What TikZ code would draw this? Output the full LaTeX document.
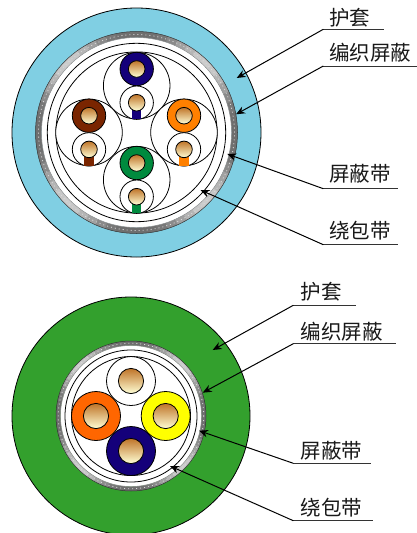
\documentclass[tikz,border=0pt]{standalone}
\usepackage{fontspec}
\newfontfamily\cjk{Noto Sans CJK SC}
\usetikzlibrary{arrows.meta}
\definecolor{jacketblue}{HTML}{80CFE3}
\definecolor{jacketgreen}{HTML}{33A02D}
\definecolor{wnavy}{HTML}{14007A}
\definecolor{wbrown}{HTML}{7A2500}
\definecolor{worange}{HTML}{FF8000}
\definecolor{wgreen}{HTML}{008A3E}
\definecolor{lorange}{HTML}{FF6600}
\definecolor{lyellow}{HTML}{FFFF00}
\definecolor{cutop}{HTML}{BF7428}
\definecolor{cubot}{HTML}{FFFFD6}
\tikzset{
  x=1pt,y=-1pt,
  ol/.style={draw=black,line width=0.8pt},
  wire/.style={ol,fill=white},
  conductor/.style={draw=black,line width=0.8pt,top color=cutop,bottom color=cubot,shading angle=0},
  leader/.style={draw=black,line width=1pt,-{Stealth[length=9pt,width=7.5pt]}},
  underline/.style={draw=black!80,line width=1pt},
  lab/.style={font=\cjk\fontsize{20.5}{22}\selectfont,anchor=west,inner sep=0pt,text=black!90},
}
\newcommand{\braid}[5]{% cx cy ro ri highlight strength
  \pgfmathsetmacro{\rr}{(#3+#4)/2}%
  \foreach \a in {0,6,...,354}{%
    \pgfmathsetmacro{\sh}{int(58-#5*abs(sin(2*(\a+3)))^3)}%
    \draw[line width={(#3-#4)*1pt},draw=black!\sh] ({#1+\rr*cos(\a)},{#2-\rr*sin(\a)}) arc[start angle=\a,delta angle=6.6,radius=\rr pt];%
  }%
  \draw[white!70!gray,line width=0.8pt,dash pattern=on 1pt off 3pt] (#1,#2) ++(0:\rr pt) arc[start angle=0,end angle=360,radius=\rr pt];
  \draw[black!80,line width=0.5pt] (#1,#2) circle[radius=#3 pt];
  \draw[black!50,line width=0.4pt,fill=white] (#1,#2) circle[radius=#4 pt];
}
\newcommand{\pairunit}[2]{%
  \draw[wire] (#1,#2) circle[radius=33.3pt];
}
\newcommand{\pairwires}[3]{% x, pair y, colour
  \draw[ol,fill=#3] (#1,#2-16.7) circle[radius=16.7pt];
  \draw[conductor] (#1,#2-16.7) circle[radius=8.3pt];
  \draw[wire] (#1,#2+17) circle[radius=16.7pt];
  \fill[#3] (#1-4.6,#2+24) rectangle (#1+4.6,#2+33.6);
  \draw[conductor] (#1,#2+17) circle[radius=8.3pt];
}
\begin{document}
\begin{tikzpicture}
\useasboundingbox (0,0) rectangle (417,533);
\fill[white] (0,0) rectangle (417,533);
% ---- upper cable
\coordinate (uc) at (136.5,132.5);
\draw[ol,fill=jacketblue] (uc) circle[radius=124.5pt];
\braid{136.5}{132.5}{101}{95}{38}
\draw[ol,fill=white] (uc) circle[radius=89.2pt];
\draw[ol] (uc) circle[radius=80.6pt];
\pairunit{136.7}{85.7}
\pairunit{89}{132.4}
\pairunit{184}{132.4}
\pairunit{136.7}{179.7}
\pairwires{136.7}{85.7}{wnavy}
\pairwires{89}{132.4}{wbrown}
\pairwires{184}{132.4}{worange}
\pairwires{136.7}{179.7}{wgreen}
% ---- lower cable
\coordinate (lc) at (131,416);
\draw[ol,fill=jacketgreen] (lc) circle[radius=119pt];
\braid{131}{416}{75}{70.5}{38}
\draw[ol,fill=white] (lc) circle[radius=66pt];
\draw[ol] (lc) circle[radius=59.5pt];
\foreach \wx/\wy/\wc in {131/381/white,96/416/lorange,165.7/416/lyellow,131/451/wnavy}{
  \draw[ol,fill=\wc] (\wx,\wy) circle[radius=24.5pt];
  \draw[conductor] (\wx,\wy) circle[radius=12.6pt];
}
% ---- labels, upper
\node[lab] (ua) at (329,17.5) {护套};
\node[lab] (ub) at (329,52.5) {编织屏蔽};
\node[lab] (uc3) at (329,174) {屏蔽带};
\node[lab] (ud) at (329,230.7) {绕包带};
\coordinate (ua0) at (323.3,29.3); \coordinate (ua1) at (384,29.3); \coordinate (uat) at (236.7,78);
\coordinate (ub0) at (323.3,66);   \coordinate (ub1) at (416.7,66); \coordinate (ubt) at (236,114.3);
\coordinate (uc0) at (323.3,188.7);\coordinate (uc1) at (397.7,188.7); \coordinate (uct) at (227.3,154);
\coordinate (ud0) at (323.3,244.7);\coordinate (ud1) at (398,244.7); \coordinate (udt) at (200.5,190);
\draw[underline] (ua0) -- (ua1); \draw[leader] (ua0) -- (uat);
\draw[underline] (ub0) -- (ub1); \draw[leader] (ub0) -- (ubt);
\draw[underline] (uc0) -- (uc1); \draw[leader] (uc0) -- (uct);
\draw[underline] (ud0) -- (ud1); \draw[leader] (ud0) -- (udt);
% ---- labels, lower
\node[lab] (la) at (300.5,292) {护套};
\node[lab] (lb) at (300.5,332) {编织屏蔽};
\node[lab] (lc3) at (300.5,451) {屏蔽带};
\node[lab] (ld) at (300.5,508) {绕包带};
\coordinate (la0) at (293.3,305.3); \coordinate (la1) at (356,305.3); \coordinate (lat) at (212.7,350);
\coordinate (lb0) at (293.3,343.7); \coordinate (lb1) at (396,343.7); \coordinate (lbt) at (202.7,392.7);
\coordinate (lc0) at (293.3,463.3); \coordinate (lc1) at (371,463.3); \coordinate (lct) at (199,430.7);
\coordinate (ld0) at (293.3,520.7); \coordinate (ld1) at (372.7,520.7); \coordinate (ldt) at (170,466);
\draw[underline] (la0) -- (la1); \draw[leader] (la0) -- (lat);
\draw[underline] (lb0) -- (lb1); \draw[leader] (lb0) -- (lbt);
\draw[underline] (lc0) -- (lc1); \draw[leader] (lc0) -- (lct);
\draw[underline] (ld0) -- (ld1); \draw[leader] (ld0) -- (ldt);
\end{tikzpicture}
\end{document}
